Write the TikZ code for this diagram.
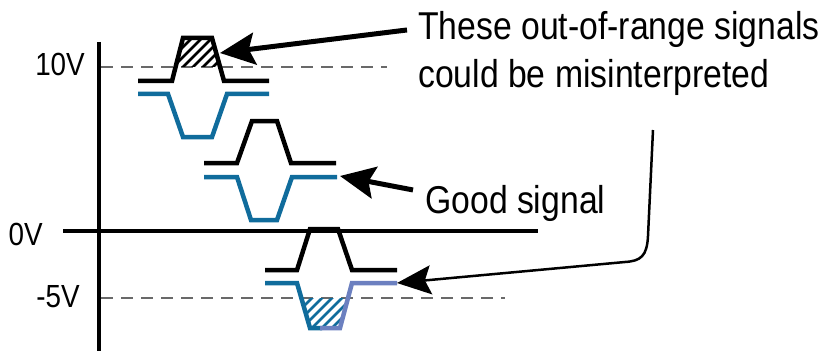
\documentclass[tikz,border=0pt]{standalone}
\usepackage{fontspec}
\setmainfont{Liberation Sans}[FakeStretch=0.87]
\usetikzlibrary{arrows.meta}
\definecolor{sigblue}{RGB}{16,108,156}
\definecolor{sigpurple}{RGB}{108,128,192}
\definecolor{dashgray}{RGB}{105,105,105}
\begin{document}
\begin{tikzpicture}[x=1pt,y=-1pt,
  axis/.style={line width=4.5pt,black},
  sigblack/.style={line width=4.5pt,black},
  sigb/.style={line width=4.5pt,sigblue},
  sigp/.style={line width=4.5pt,sigpurple},
  refline/.style={dashgray,line width=1.2pt,dash pattern=on 12pt off 8pt},
  callout/.style={-{Stealth[length=35pt,width=32pt,inset=6pt]},line width=5pt},
  thincallout/.style={-{Stealth[length=34pt,width=29pt,inset=6pt]},line width=2.5pt},
  bigtext/.style={font=\fontsize{38.8}{45}\selectfont,inner sep=0pt,anchor=base west},
  axlabel/.style={font=\fontsize{32}{37}\selectfont,inner sep=0pt,anchor=base east},
  hatchline/.style={line width=2.5pt}]
\useasboundingbox (0,0) rectangle (825,353);

% reference dashed lines
\draw[refline] (101,67) -- (387,67);
\draw[refline] (101,298) -- (505,298);

% axes
\draw[axis] (99,42) -- (99,351);
\draw[axis] (63,231) -- (538,231);

% axis labels
\node[axlabel] (l10) at (85,75) {10V};
\node[axlabel] (l0) at (43,245) {0V};
\node[axlabel] (l5) at (80,307) {-5V};

% hatch of signal 1 (above 10V)
\begin{scope}
  \clip (175.6,67) -- (183,38) -- (212,38) -- (220,67) -- cycle;
  \foreach \i in {120,130,...,230} \draw[hatchline] (\i,80) -- ++(50,-50);
\end{scope}
% hatch of signal 3 (below -5V)
\begin{scope}
  \clip (301.3,298) -- (310,328) -- (340,328) -- (348,298) -- cycle;
  \foreach \i in {250,260,...,350} \draw[hatchline,sigblue] (\i,340) -- ++(60,-60);
\end{scope}

% signal 1
\draw[sigblack] (138,81) -- (172,81) -- (183,38) -- (212,38) -- (224,81) -- (269,81);
\draw[sigb] (138,94) -- (168,94) -- (183,137) -- (212,137) -- (227,94) -- (269,94);
% signal 2
\draw[sigblack] (204,163) -- (237,163) -- (252,121) -- (277,121) -- (291,163) -- (336,163);
\draw[sigb] (204,177) -- (237,177) -- (251,220) -- (277,220) -- (292,177) -- (337,177);
% signal 3
\draw[sigblack] (265,270) -- (297,270) -- (310,229) -- (338,229) -- (352,270) -- (397,270);
\draw[sigb] (265,283) -- (297,283) -- (310,328) -- (322,328);
\draw[sigp] (320,328) -- (340,328) -- (352,283) -- (397,283);

% texts
\node[bigtext] (oor1) at (418,40) {These out-of-range signals};
\node[bigtext] (oor2) at (418,88) {could be misinterpreted};
\node[bigtext] (good) at (425,213) {Good signal};

% callouts
\coordinate (tip1) at (220,53);
\coordinate (tip2) at (340,176);
\coordinate (tip3) at (397,283);
\coordinate (start3) at (653,130);
\draw[callout] ([xshift=-11pt]oor1.west) -- (tip1);
\draw[callout] ([xshift=-12pt,yshift=13pt]good.west) -- (tip2);
\draw[thincallout] (start3) -- (648,236) .. controls (647,256) and (641,261) .. (625,262) -- (tip3);
\end{tikzpicture}
\end{document}
